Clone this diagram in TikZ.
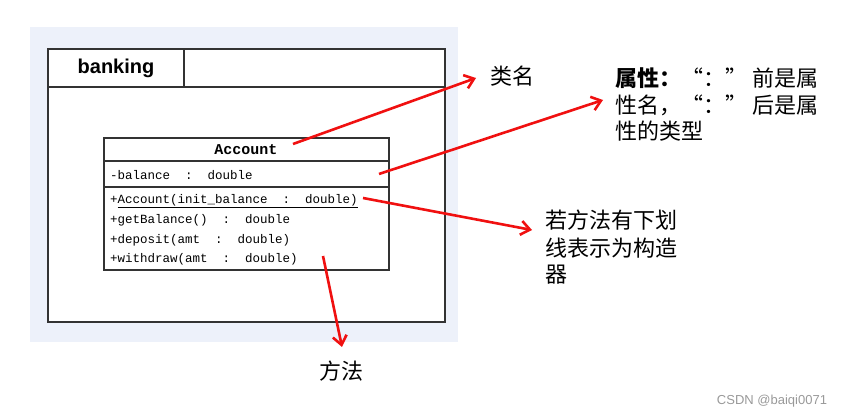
\documentclass[tikz,border=0pt]{standalone}
\usepackage{fontspec}
\setmainfont{Liberation Sans}
\setmonofont{Liberation Mono}
\newfontfamily\cjk{Noto Sans CJK SC}
\usetikzlibrary{arrows.meta}
\definecolor{panelblue}{HTML}{EDF1FA}
\definecolor{boxline}{HTML}{333333}
\definecolor{arrowred}{HTML}{F01010}
\tikzset{
  umlbox/.style={draw=boxline, line width=1.4pt},
  mono/.style={inner sep=0pt, anchor=west, font=\ttfamily\fontsize{12.5}{14}\selectfont},
  note/.style={inner sep=0pt, anchor=west, font=\cjk\fontsize{22}{26}\selectfont},
  callout/.style={draw=arrowred, line width=2.6pt, -{Straight Barb[length=9pt,width=14pt,line width=2.6pt]}},
}
\begin{document}
\begin{tikzpicture}[x=1pt,y=-1pt]
\useasboundingbox (0,0) rectangle (849,419);
% panel and package frame
\fill[panelblue] (30,27) rectangle (458,342);
\draw[umlbox, fill=white] (48,49) rectangle (445,322);
\draw[umlbox] (48,87) -- (445,87);
\draw[umlbox] (184,49) -- (184,87);
\node[inner sep=0pt, font=\bfseries\fontsize{20}{24}\selectfont] (pkg) at (116,68) {banking};
% class box
\draw[umlbox, fill=white] (104,138) rectangle (389,270);
\draw[umlbox] (104,161) -- (389,161);
\draw[umlbox] (104,187) -- (389,187);
\node[inner sep=0pt, font=\ttfamily\bfseries\fontsize{15}{18}\selectfont] (cls) at (246,150) {Account};
\node[mono] (attr) at (110,175) {-balance\ \ :\ \ double};
\node[mono] (m1) at (110,201) {+\underline{Account(init\_balance\ \ :\ \ double)}};
\node[mono] (m2) at (110,220) {+getBalance()\ \ :\ \ double};
\node[mono] (m3) at (110,240) {+deposit(amt\ \ :\ \ double)};
\node[mono] (m4) at (110,259) {+withdraw(amt\ \ :\ \ double)};
% callout start points
\coordinate (s1) at (293,144);
\coordinate (s2) at (379,174);
\coordinate (s3) at (363,198);
\coordinate (s4) at (323,256);
% notes
\node[note] (n1) at (490,76) {类名};
\node[note] (n2a) at (615,78) {\textbf{属性：}“：”\hspace{5pt}前是属};
\node[note] (n2b) at (615,105) {性名，“：”\hspace{5pt}后是属};
\node[note] (n2c) at (615,131) {性的类型};
\node[note] (n3a) at (545,220) {若方法有下划};
\node[note] (n3b) at (545,248) {线表示为构造};
\node[note] (n3c) at (545,275) {器};
\node[note, anchor=center] (n4) at (341,371) {方法};
% callout arrows
\draw[callout] (s1) -- ([xshift=-14pt,yshift=-2pt]n1.west);
\draw[callout] (s2) -- ([xshift=-12pt,yshift=-22pt]n2a.west);
\draw[callout] (s3) -- ([xshift=-13pt,yshift=-10pt]n3a.west);
\draw[callout] (s4) -- ([xshift=1pt,yshift=24pt]n4.center);
% watermark
\node[inner sep=0pt, text=gray!80, font=\fontsize{13}{15}\selectfont] (wm) at (772,401) {CSDN @baiqi0071};
\end{tikzpicture}
\end{document}
